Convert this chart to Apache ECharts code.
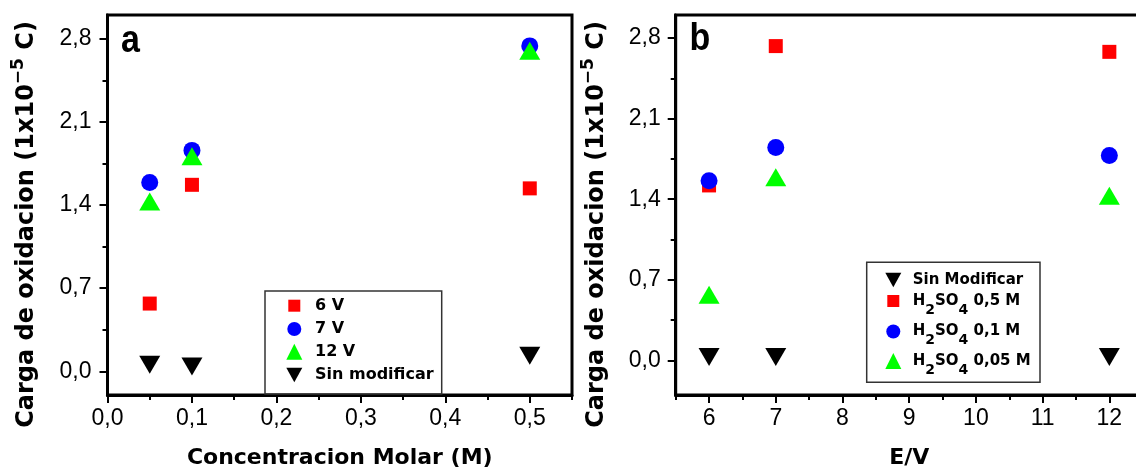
<!DOCTYPE html>
<html><head><meta charset="utf-8">
<script src="https://cdn.jsdelivr.net/npm/echarts@6/dist/echarts.min.js"></script>
<style>html,body{margin:0;padding:0;background:#fff}#c{width:1136px;height:472px}</style>
</head><body><div id="c"></div>
<script>
// ---- data ----
const concA = [0.05, 0.1, 0.5];
const a6V = [0.57, 1.57, 1.54];
const a7V = [1.59, 1.86, 2.74];
const a12V = [1.43, 1.81, 2.70];
const aSin = [0.055, 0.04, 0.13];
const voltsB = [6, 7, 12];
const bSin = [0.03, 0.03, 0.03];
const b05 = [1.52, 2.73, 2.68];
const b01 = [1.56, 1.85, 1.78];
const b005 = [0.57, 1.59, 1.43];
const yTicks = [0, 0.7, 1.4, 2.1, 2.8];
const yMinor = [0.35, 1.05, 1.75, 2.45];
const xTicksA = [0, 0.1, 0.2, 0.3, 0.4, 0.5];
const xMinorA = [0.05, 0.15, 0.25, 0.35, 0.45, 0.55];
const xTicksB = [6, 7, 8, 9, 10, 11, 12];
const xMinorB = [5.5, 6.5, 7.5, 8.5, 9.5, 10.5, 11.5, 12.5];
const namesA = ['6 V', '7 V', '12 V', 'Sin modificar'];
const namesB = ['Sin Modificar', 'H2SO4 0,5 M', 'H2SO4 0,1 M', 'H2SO4 0,05 M'];
const yTitle = 'Carga de oxidacion (1x10{sup|\u22125} C)';
const xTitleA = 'Concentracion Molar (M)';
const xTitleB = 'E/V';

// ---- styling helpers ----
const RED = '#ff0000', BLUE = '#0000ff', GREEN = '#00ff00', BLACK = '#000000';
const DOWN = 'path://M0,0L20,0L10,18Z';
const comma1 = v => v.toFixed(1).replace('.', ',');
const tickFont = {fontFamily: 'Liberation Sans, Arial, sans-serif', fontSize: 23, color: '#000'};
const boldFont = 'DejaVu Sans';

function mainX(grid, min, max, ticks, fmt, name) {
  return {type: 'value', gridIndex: grid, min, max, position: 'bottom',
    axisLine: {show: true, onZero: false, lineStyle: {color: '#000', width: 3}},
    axisTick: {show: true, customValues: ticks, length: 8, lineStyle: {color: '#000', width: 2}},
    axisLabel: Object.assign({customValues: ticks, formatter: fmt, margin: 12}, tickFont),
    splitLine: {show: false},
    name, nameLocation: 'middle', nameGap: 52,
    nameTextStyle: {fontFamily: boldFont, fontWeight: 'bold', fontSize: 22, color: '#000'}};
}
function minorX(grid, min, max, ticks) {
  return {type: 'value', gridIndex: grid, min, max, position: 'bottom',
    axisLine: {show: false, onZero: false},
    axisTick: {show: true, customValues: ticks, length: 5, lineStyle: {color: '#000', width: 2}},
    axisLabel: {show: false}, splitLine: {show: false}};
}
function mainY(grid, min, max, margin) {
  return {type: 'value', gridIndex: grid, min, max, position: 'left',
    axisLine: {show: true, onZero: false, lineStyle: {color: '#000', width: 3}},
    axisTick: {show: true, customValues: yTicks, length: 8, lineStyle: {color: '#000', width: 2}},
    axisLabel: Object.assign({customValues: yTicks, formatter: comma1, margin}, tickFont),
    splitLine: {show: false}};
}
function minorY(grid, min, max) {
  return {type: 'value', gridIndex: grid, min, max, position: 'left',
    axisLine: {show: false, onZero: false},
    axisTick: {show: true, customValues: yMinor, length: 5, lineStyle: {color: '#000', width: 2}},
    axisLabel: {show: false}, splitLine: {show: false}};
}
function sc(name, xi, yi, xs, ys, symbol, size, color) {
  return {type: 'scatter', name, xAxisIndex: xi, yAxisIndex: yi,
    data: xs.map((x, i) => [x, ys[i]]), symbol, symbolSize: size,
    itemStyle: {color, opacity: 1}, emphasis: {disabled: true}};
}
function leg(name, cx, cy, s, textLeft, fontSize, rich) {
  const left = cx - s / 2;
  const o = {data: [name], left, top: cy - 10, padding: 0, itemWidth: s, itemHeight: s,
    itemGap: 0, selectedMode: false,
    textStyle: {fontFamily: boldFont, fontWeight: 'bold', fontSize, color: '#000', lineHeight: 20,
      padding: [0, 0, 0, textLeft - (left + s + 5)]}};
  if (rich) {
    o.textStyle.rich = {sub: {fontFamily: boldFont, fontWeight: 'bold', fontSize: fontSize - 1,
      color: '#000', verticalAlign: 'top', lineHeight: 20, padding: [12, 0, 0, 0]}};
    o.formatter = n => n.replace(/H2SO4/, 'H{sub|2}SO{sub|4}');
  }
  return o;
}

const chart = echarts.init(document.getElementById('c'), null, {renderer: 'canvas'});
chart.setOption({
  animation: false,
  backgroundColor: '#fff',
  grid: [
    {left: 107.5, top: 15, width: 464.5, height: 380, show: true, borderColor: '#000', borderWidth: 3, outerBoundsMode: 'none'},
    {left: 675.7, top: 15, width: 467, height: 380, show: true, borderColor: '#000', borderWidth: 3, outerBoundsMode: 'none'}
  ],
  xAxis: [
    mainX(0, 0, 0.55, xTicksA, comma1, xTitleA),
    minorX(0, 0, 0.55, xMinorA),
    mainX(1, 5.5, 12.5, xTicksB, v => String(v), xTitleB),
    minorX(1, 5.5, 12.5, xMinorB)
  ],
  yAxis: [
    mainY(0, -0.2, 3.0, 16),
    minorY(0, -0.2, 3.0),
    mainY(1, -0.3, 3.0, 15),
    minorY(1, -0.3, 3.0)
  ],
  legend: [
    leg(namesA[0], 294.3, 305.7, 12, 315, 16),
    leg(namesA[1], 294.3, 329, 14, 315, 16),
    leg(namesA[2], 294.3, 351.7, 16, 315, 16),
    leg(namesA[3], 294.3, 375, 16, 315, 16),
    leg(namesB[0], 893.3, 280, 16, 912.7, 15),
    leg(namesB[1], 893.3, 301, 12, 912.7, 15, true),
    leg(namesB[2], 893.3, 331.5, 14, 912.7, 15, true),
    leg(namesB[3], 893.3, 361, 16, 912.7, 15, true)
  ],
  series: [
    sc(namesA[0], 0, 0, concA, a6V, 'rect', 14, RED),
    sc(namesA[1], 0, 0, concA, a7V, 'circle', 17, BLUE),
    sc(namesA[2], 0, 0, concA, a12V, 'triangle', [21, 18], GREEN),
    sc(namesA[3], 0, 0, concA, aSin, DOWN, [21, 18], BLACK),
    sc(namesB[0], 2, 2, voltsB, bSin, DOWN, [21, 18], BLACK),
    sc(namesB[1], 2, 2, voltsB, b05, 'rect', 14, RED),
    sc(namesB[2], 2, 2, voltsB, b01, 'circle', 17, BLUE),
    sc(namesB[3], 2, 2, voltsB, b005, 'triangle', [21, 18], GREEN)
  ],
  graphic: [
    {type: 'rect', shape: {x: 265, y: 291, width: 176.7, height: 103}, style: {fill: 'none', stroke: '#333', lineWidth: 1.5}, z: 1},
    {type: 'rect', shape: {x: 866.7, y: 262.3, width: 173.3, height: 120}, style: {fill: 'none', stroke: '#333', lineWidth: 1.5}, z: 1},
    {type: 'text', x: 27, y: 224.5, rotation: Math.PI / 2,
      style: {text: yTitle, fontFamily: boldFont, fontWeight: 'bold', fontSize: 24, fill: '#000',
        align: 'center', verticalAlign: 'middle', lineHeight: 34,
        rich: {sup: {fontFamily: boldFont, fontWeight: 'bold', fontSize: 17, fill: '#000', verticalAlign: 'top'}}}},
    {type: 'text', x: 597, y: 224.5, rotation: Math.PI / 2,
      style: {text: yTitle, fontFamily: boldFont, fontWeight: 'bold', fontSize: 24, fill: '#000',
        align: 'center', verticalAlign: 'middle', lineHeight: 34,
        rich: {sup: {fontFamily: boldFont, fontWeight: 'bold', fontSize: 17, fill: '#000', verticalAlign: 'top'}}}},
    {type: 'text', x: 130.5, y: 41, scaleY: 1.15,
      style: {text: 'a', fontFamily: 'Liberation Sans', fontWeight: 'bold', fontSize: 34, fill: '#000', align: 'center', verticalAlign: 'middle'}},
    {type: 'text', x: 700, y: 39, scaleY: 1.15,
      style: {text: 'b', fontFamily: 'Liberation Sans', fontWeight: 'bold', fontSize: 34, fill: '#000', align: 'center', verticalAlign: 'middle'}}
  ]
});
</script></body></html>
